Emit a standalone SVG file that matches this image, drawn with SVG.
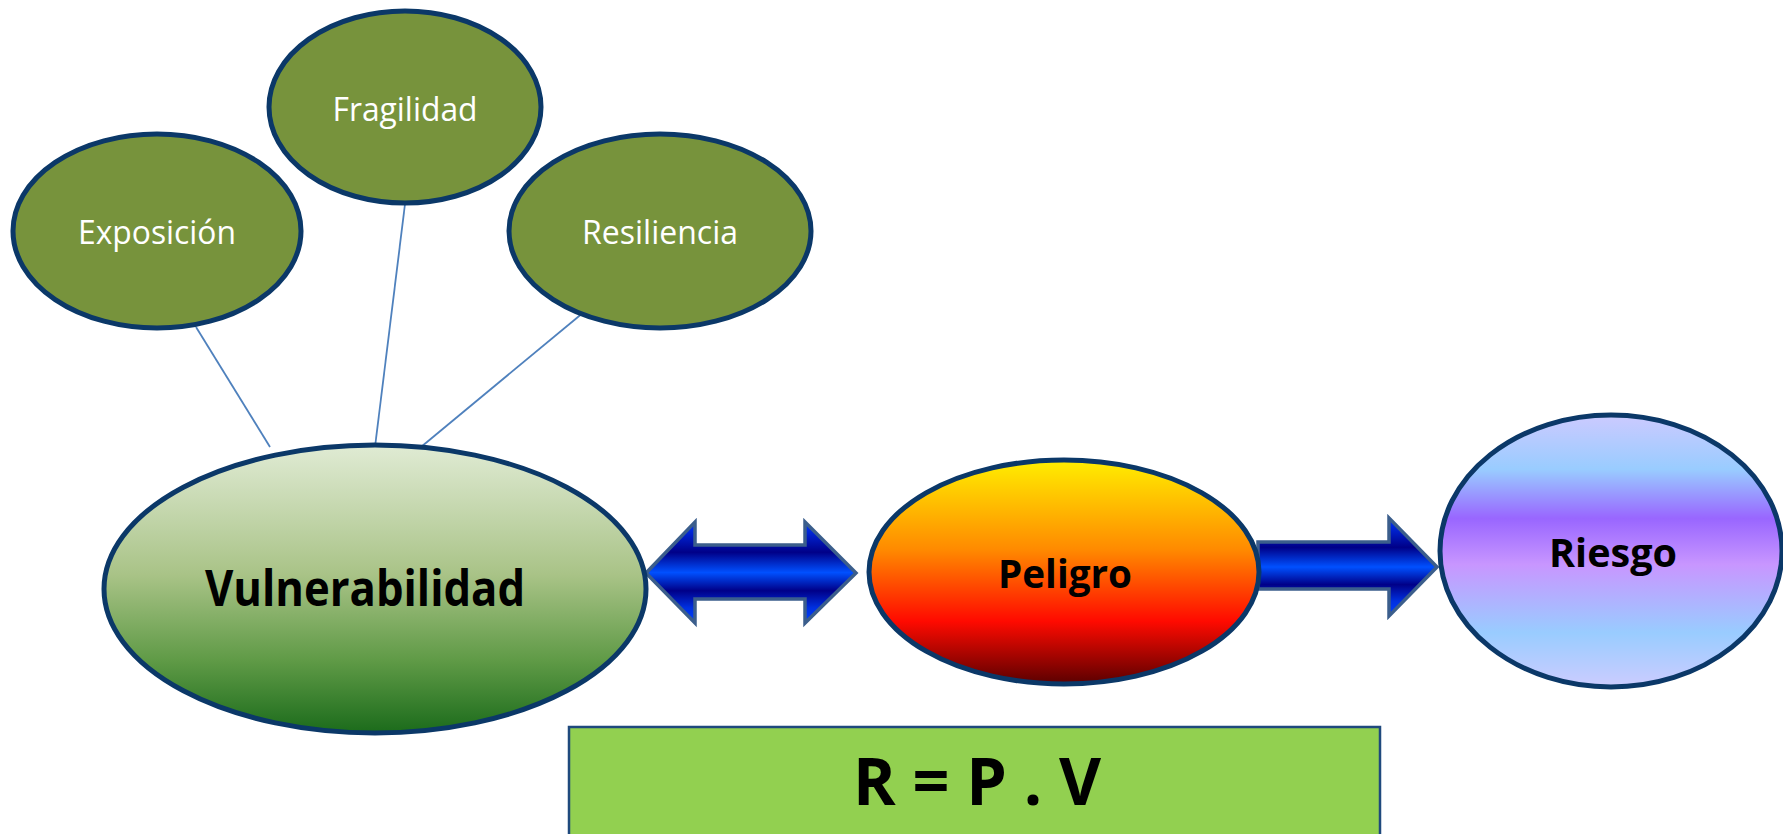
<svg xmlns="http://www.w3.org/2000/svg" width="1783" height="834" viewBox="0 0 1783 834">
<style>
.node{stroke:#0b3868;stroke-width:5}
.small{fill:#77933c}
.lbl{font-family:"Open Sans","Liberation Sans",sans-serif;fill:#ffffff;font-size:32px}
.big{font-family:"Open Sans","Liberation Sans",sans-serif;font-weight:bold;fill:#000000}
.arrow{stroke:#3b5e8c;stroke-width:3.5;stroke-linejoin:miter}
.link{stroke:#4f81bd;stroke-width:1.8;fill:none}
</style>
<defs>
<linearGradient id="gV" x1="0" y1="0" x2="0" y2="1">
<stop offset="0" stop-color="#e0ebd4"/>
<stop offset="0.45" stop-color="#a9c387"/>
<stop offset="0.75" stop-color="#5f9a46"/>
<stop offset="1" stop-color="#1b6b1b"/>
</linearGradient>
<linearGradient id="gP" x1="0" y1="0" x2="0" y2="1">
<stop offset="0" stop-color="#ffee00"/>
<stop offset="0.4" stop-color="#ff8a00"/>
<stop offset="0.72" stop-color="#ff0a00"/>
<stop offset="1" stop-color="#5a0000"/>
</linearGradient>
<linearGradient id="gR" x1="0" y1="0" x2="0" y2="1">
<stop offset="0" stop-color="#cccaff"/>
<stop offset="0.2" stop-color="#99ccff"/>
<stop offset="0.38" stop-color="#9966ff"/>
<stop offset="0.55" stop-color="#c896ff"/>
<stop offset="0.8" stop-color="#99ccff"/>
<stop offset="1" stop-color="#ccccff"/>
</linearGradient>
<linearGradient id="gA" x1="0" y1="0" x2="0" y2="1">
<stop offset="0" stop-color="#0038ff"/>
<stop offset="0.3" stop-color="#000088"/>
<stop offset="0.5" stop-color="#0050ff"/>
<stop offset="0.68" stop-color="#000088"/>
<stop offset="0.85" stop-color="#0030e0"/>
<stop offset="1" stop-color="#0040ff"/>
</linearGradient>
</defs>

<g id="connectors">
<line class="link" x1="196" y1="327" x2="270" y2="447"/>
<line class="link" x1="405" y1="204" x2="375" y2="447"/>
<line class="link" x1="584" y1="312" x2="421" y2="447"/>
<path id="arrow-double" class="arrow" fill="url(#gA)" d="M646,573 L695,522 L695,545 L805,545 L805,522 L856,573 L805,623 L805,599 L695,599 L695,623 Z"/>
<path id="arrow-right" class="arrow" fill="url(#gA)" d="M1258,542 L1389,542 L1389,518 L1437,567 L1389,616 L1389,589 L1258,589 Z"/>
</g>

<g id="exposicion">
<ellipse class="node small" cx="157" cy="231" rx="144" ry="97"/>
<text class="lbl" x="157" y="244" text-anchor="middle" textLength="158" lengthAdjust="spacingAndGlyphs">Exposición</text>
</g>
<g id="fragilidad">
<ellipse class="node small" cx="405" cy="107" rx="136" ry="96"/>
<text class="lbl" x="405" y="121" text-anchor="middle" textLength="145" lengthAdjust="spacingAndGlyphs">Fragilidad</text>
</g>
<g id="resiliencia">
<ellipse class="node small" cx="660" cy="231" rx="151" ry="97"/>
<text class="lbl" x="660" y="244" text-anchor="middle" textLength="156" lengthAdjust="spacingAndGlyphs">Resiliencia</text>
</g>
<g id="vulnerabilidad">
<ellipse class="node" fill="url(#gV)" cx="375" cy="589" rx="271" ry="144"/>
<text class="big" x="365" y="606" font-size="51" text-anchor="middle" textLength="320" lengthAdjust="spacingAndGlyphs">Vulnerabilidad</text>
</g>
<g id="peligro">
<ellipse class="node" fill="url(#gP)" cx="1064" cy="572" rx="195" ry="112"/>
<text class="big" x="1065" y="588" font-size="40" text-anchor="middle" textLength="134" lengthAdjust="spacingAndGlyphs">Peligro</text>
</g>
<g id="riesgo">
<ellipse class="node" fill="url(#gR)" cx="1611" cy="551" rx="171" ry="136"/>
<text class="big" x="1613" y="567" font-size="40" text-anchor="middle" textLength="128" lengthAdjust="spacingAndGlyphs">Riesgo</text>
</g>
<g id="formula">
<rect x="569" y="727" width="811" height="120" fill="#92d050" stroke="#1f497d" stroke-width="2.5"/>
<text class="big" x="977" y="805" font-size="67" text-anchor="middle" textLength="248" lengthAdjust="spacingAndGlyphs">R = P . V</text>
</g>
</svg>
